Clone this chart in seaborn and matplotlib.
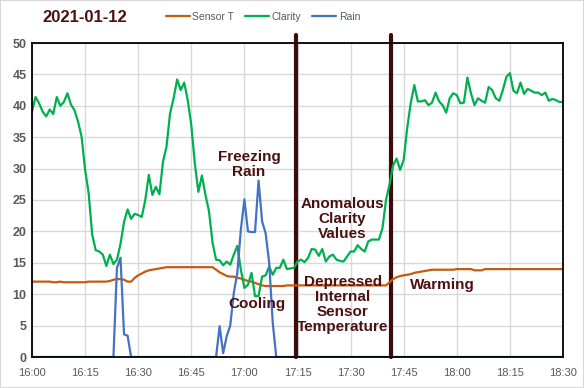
import matplotlib.dates as mdates
import matplotlib.pyplot as plt
import pandas as pd
import seaborn as sns
from matplotlib.patches import Rectangle

# one reading per minute, 16:00 .. 18:30
times = pd.date_range("2021-01-12 16:00", "2021-01-12 18:30", freq="min")

sensor_t = [
    12.0, 12.0, 12.0, 12.0, 12.0, 12.0, 11.9, 11.9, 12.0, 11.9,
    11.9, 11.9, 11.9, 11.9, 11.9, 11.9, 12.0, 12.0, 12.0, 12.0,
    12.0, 12.0, 12.1, 12.3, 12.4, 12.4, 12.3, 12.0, 12.0, 12.6,
    13.0, 13.3, 13.6, 13.8, 13.9, 14.0, 14.1, 14.2, 14.3, 14.3,
    14.3, 14.3, 14.3, 14.3, 14.3, 14.3, 14.3, 14.3, 14.3, 14.3,
    14.3, 14.3, 13.9, 13.5, 13.2, 12.9, 12.8, 12.8, 12.6, 12.5,
    12.3, 12.1, 12.0, 11.8, 11.6, 11.4, 11.3, 11.3, 11.3, 11.3,
    11.3, 11.3, 11.4, 11.4, 11.4, 11.4, 11.4, 11.4, 11.4, 11.4,
    11.4, 11.4, 11.4, 11.4, 11.4, 11.4, 11.4, 11.4, 11.4, 11.4,
    11.4, 11.4, 11.4, 11.4, 11.4, 11.4, 11.4, 11.4, 11.4, 11.4,
    11.4, 11.9, 12.4, 12.7, 12.9, 13.0, 13.1, 13.2, 13.4, 13.5,
    13.6, 13.7, 13.8, 13.9, 13.9, 13.9, 13.9, 13.9, 13.9, 13.9,
    14.0, 14.0, 14.0, 14.0, 14.0, 13.8, 13.8, 13.8, 14.0, 14.0,
    14.0, 14.0, 14.0, 14.0, 14.0, 14.0, 14.0, 14.0, 14.0, 14.0,
    14.0, 14.0, 14.0, 14.0, 14.0, 14.0, 14.0, 14.0, 14.0, 14.0,
    14.0,
]

clarity = [
    39.1, 41.4, 40.4, 39.1, 38.3, 39.4, 38.7, 41.4, 40.0, 40.6,
    42.0, 40.2, 39.3, 37.5, 35.1, 29.8, 26.1, 19.5, 17.0, 16.8,
    16.3, 14.5, 16.3, 14.8, 15.5, 18.0, 21.5, 23.5, 22.0, 22.8,
    22.6, 22.3, 25.0, 29.0, 25.8, 27.1, 25.9, 31.1, 33.5, 38.8,
    41.2, 44.2, 42.5, 43.7, 40.9, 36.9, 30.8, 26.3, 28.9, 25.8,
    23.2, 18.2, 15.5, 15.4, 14.6, 15.2, 14.7, 16.3, 17.7, 13.9,
    11.0, 11.5, 13.4, 9.7, 9.7, 12.8, 13.0, 14.4, 13.1, 14.2,
    14.2, 15.5, 14.0, 14.1, 14.2, 15.2, 15.5, 15.1, 15.8, 17.2,
    17.1, 16.1, 17.2, 15.2, 16.0, 16.3, 15.5, 15.3, 15.2, 16.0,
    16.8, 16.8, 17.8, 17.2, 16.8, 18.4, 18.7, 18.7, 18.7, 20.5,
    25.0, 27.5, 30.5, 31.6, 29.8, 31.4, 36.5, 40.5, 43.3, 40.7,
    40.7, 40.9, 40.1, 40.5, 42.1, 40.7, 40.1, 38.9, 41.2, 42.0,
    41.7, 40.4, 40.5, 44.5, 42.0, 40.1, 41.2, 40.8, 40.5, 43.0,
    42.5, 41.2, 40.8, 42.5, 44.6, 45.2, 42.4, 42.0, 43.7, 41.9,
    42.7, 42.4, 42.1, 42.1, 41.7, 42.1, 40.8, 41.1, 40.9, 40.6,
    40.6,
]

rain = [
    0.0, 0.0, 0.0, 0.0, 0.0, 0.0, 0.0, 0.0, 0.0, 0.0,
    0.0, 0.0, 0.0, 0.0, 0.0, 0.0, 0.0, 0.0, 0.0, 0.0,
    0.0, 0.0, 0.0, 0.0, 14.2, 15.8, 3.6, 3.4, 0.0, 0.0,
    0.0, 0.0, 0.0, 0.0, 0.0, 0.0, 0.0, 0.0, 0.0, 0.0,
    0.0, 0.0, 0.0, 0.0, 0.0, 0.0, 0.0, 0.0, 0.0, 0.0,
    0.0, 0.0, 0.0, 4.9, 0.6, 3.3, 5.0, 10.2, 13.4, 20.3,
    25.1, 20.0, 19.9, 19.9, 28.1, 21.6, 19.7, 15.0, 5.5, 0.0,
    0.0, 0.0, 0.0, 0.0, 0.0, 0.0, 0.0, 0.0, 0.0, 0.0,
    0.0, 0.0, 0.0, 0.0, 0.0, 0.0, 0.0, 0.0, 0.0, 0.0,
    0.0, 0.0, 0.0, 0.0, 0.0, 0.0, 0.0, 0.0, 0.0, 0.0,
    0.0, 0.0, 0.0, 0.0, 0.0, 0.0, 0.0, 0.0, 0.0, 0.0,
    0.0, 0.0, 0.0, 0.0, 0.0, 0.0, 0.0, 0.0, 0.0, 0.0,
    0.0, 0.0, 0.0, 0.0, 0.0, 0.0, 0.0, 0.0, 0.0, 0.0,
    0.0, 0.0, 0.0, 0.0, 0.0, 0.0, 0.0, 0.0, 0.0, 0.0,
    0.0, 0.0, 0.0, 0.0, 0.0, 0.0, 0.0, 0.0, 0.0, 0.0,
    0.0,
]

x_ticks = ["16:00", "16:15", "16:30", "16:45", "17:00", "17:15",
           "17:30", "17:45", "18:00", "18:15", "18:30"]
y_ticks = [0, 5, 10, 15, 20, 25, 30, 35, 40, 45, 50]

# boundaries of the "depressed sensor temperature" period
events = ["17:14:30", "17:41:20"]

notes = [
    ("17:01:20", 30.6, "Freezing\nRain"),
    ("17:03:40", 8.4, "Cooling"),
    ("17:27:40", 22.0, "Anomalous\nClarity\nValues"),
    ("17:27:50", 8.4, "Depressed\nInternal\nSensor\nTemperature"),
    ("17:55:50", 11.5, "Warming"),
]

DAY = "2021-01-12 "
MAROON = "#4B1010"
GREY = "#595959"

sns.set_style("white")
plt.rcParams["font.family"] = ["Liberation Sans", "DejaVu Sans"]

fig, ax = plt.subplots(figsize=(5.84, 3.88), dpi=100)
fig.subplots_adjust(left=32 / 584, right=563 / 584, bottom=1 - 357 / 388, top=1 - 43 / 388)

df = pd.DataFrame({"time": times, "Sensor T": sensor_t, "Clarity": clarity, "Rain": rain})

sns.lineplot(data=df, x="time", y="Sensor T", color="#C55A11", lw=1.6, label="Sensor T", ax=ax)
sns.lineplot(data=df, x="time", y="Clarity", color="#00B050", lw=1.6, label="Clarity", ax=ax)
sns.lineplot(data=df, x="time", y="Rain", color="#4472C4", lw=1.6, label="Rain", ax=ax)

for t in events:
    ax.axvline(pd.Timestamp(DAY + t), ymin=0, ymax=1.025, clip_on=False,
               color="#3F0A0A", lw=3, zorder=1.9)

for t, y, txt in notes:
    ax.text(mdates.date2num(pd.Timestamp(DAY + t)), y, txt, ha="center", va="center",
            fontsize=11, fontweight="bold", color=MAROON, linespacing=1.1)

ax.set_xlim(times[0], times[-1])
ax.set_ylim(0, 50)
ax.set_xticks([pd.Timestamp(DAY + t) for t in x_ticks])
ax.set_xticklabels(x_ticks, fontsize=8, color=GREY)
ax.set_yticks(y_ticks)
ax.set_yticklabels([str(v) for v in y_ticks], fontsize=9, fontweight="bold", color=GREY)
ax.tick_params(axis="x", length=0, pad=8)
ax.tick_params(axis="y", length=0, pad=4)
ax.set_xlabel("")
ax.set_ylabel("")
ax.grid(True, color="#D9D9D9", lw=1)
for s in ax.spines.values():
    s.set_color("black")
    s.set_linewidth(1.3)

ax.legend(loc="center", bbox_to_anchor=(263 / 584, 1 - 17 / 388), bbox_transform=fig.transFigure,
          ncol=3, frameon=False, fontsize=7.5, handlelength=2.3, handletextpad=0.25,
          columnspacing=1.05, labelcolor=GREY)

fig.text(42 / 584, 1 - 17 / 388, "2021-01-12", fontsize=12, fontweight="bold",
         color=MAROON, va="center")
fig.patches.append(Rectangle((0, 0), 1, 1, transform=fig.transFigure, fill=False,
                             edgecolor="#D9D9D9", lw=1.5))

fig.savefig("out.png", dpi=100)
